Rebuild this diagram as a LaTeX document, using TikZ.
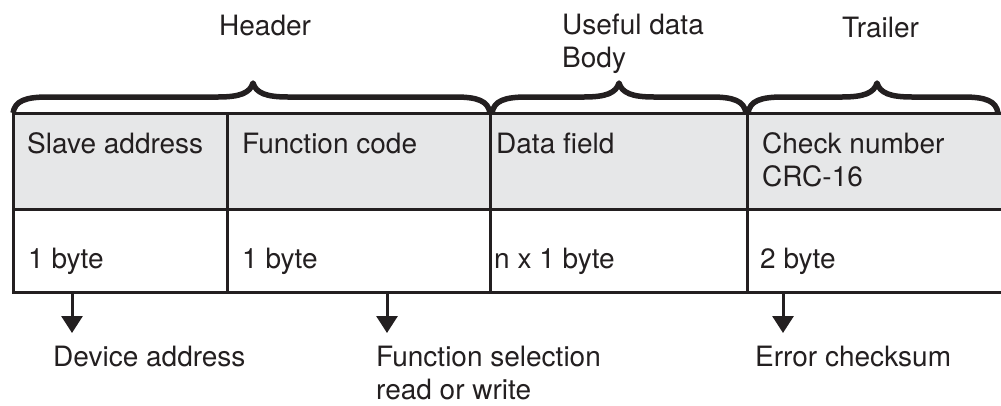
\documentclass[tikz,border=0pt]{standalone}
\usepackage{fontspec}
\setmainfont{TeX Gyre Heros}
\usetikzlibrary{arrows.meta}
\definecolor{ink}{HTML}{231F20}
\definecolor{cellgray}{HTML}{E6E7E8}
\newcommand\mybrace[3]{%
  \draw[bracestyle] (#1,113) .. controls ({#1+2},101) and ({#1+12},97) .. ({#1+35},97)
    -- ({#3-35},97) .. controls ({#3-13},97) and ({#3-3},93) .. (#3,83)
    .. controls ({#3+3},93) and ({#3+13},97) .. ({#3+35},97)
    -- ({#2-35},97) .. controls ({#2-12},97) and ({#2-2},101) .. (#2,113);}
\tikzset{
  txt/.style={anchor=base west, inner sep=0pt, text=ink, align=left,
    font=\fontsize{28}{33}\selectfont},
  tab/.style={draw=ink, line width=3pt},
  bracestyle/.style={draw=ink, line width=5.5pt, line join=round},
  arr/.style={draw=ink, line width=3pt, -{Triangle[width=21pt,length=17pt]}}
}
\begin{document}
\begin{tikzpicture}[x=1pt,y=-1pt]
\useasboundingbox (0,0) rectangle (1001,405);
% table
\fill[cellgray] (13,113) rectangle (1010,209);
\draw[tab] (1010,113) -- (13,113) -- (13,292) -- (1010,292);
\draw[tab] (13,209) -- (1010,209);
\draw[tab] (227,113) -- (227,292);
\draw[tab] (490,113) -- (490,292);
\draw[tab] (747,113) -- (747,292);
% braces
\mybrace{13}{490}{253}
\mybrace{492}{746}{619}
\mybrace{748}{998}{877}
% group labels (base anchor of a two-line node is on its last line)
\node[txt] (header) at (219,35) {Header};
\node[txt] (useful) at (562,67) {Useful data\\Body};
\node[txt] (trailer) at (842,37) {Trailer};
% cell texts
\node[txt] (sa) at (27,153) {Slave address};
\node[txt] (fc) at (242,153) {Function code};
\node[txt] (df) at (496,153) {Data field};
\node[txt] (cn) at (762,186) {Check number\\CRC-16};
\node[txt] (b1) at (28,268) {1 byte};
\node[txt] (b2) at (242,268) {1 byte};
\node[txt] (b3) at (494,268) {n x 1 byte};
\node[txt] (b4) at (760,268) {2 byte};
% bottom labels
\node[txt] (dev) at (53,366) {Device address};
\node[txt] (fsel) at (376,399) {Function selection\\read or write};
\node[txt] (err) at (755,366) {Error checksum};
% arrows
\coordinate (a1s) at (72,292);  \coordinate (a1e) at (72,333);
\coordinate (a2s) at (387,292); \coordinate (a2e) at (387,333);
\coordinate (a3s) at (783,292); \coordinate (a3e) at (783,333);
\draw[arr] (a1s) -- (a1e);
\draw[arr] (a2s) -- (a2e);
\draw[arr] (a3s) -- (a3e);
\end{tikzpicture}
\end{document}
